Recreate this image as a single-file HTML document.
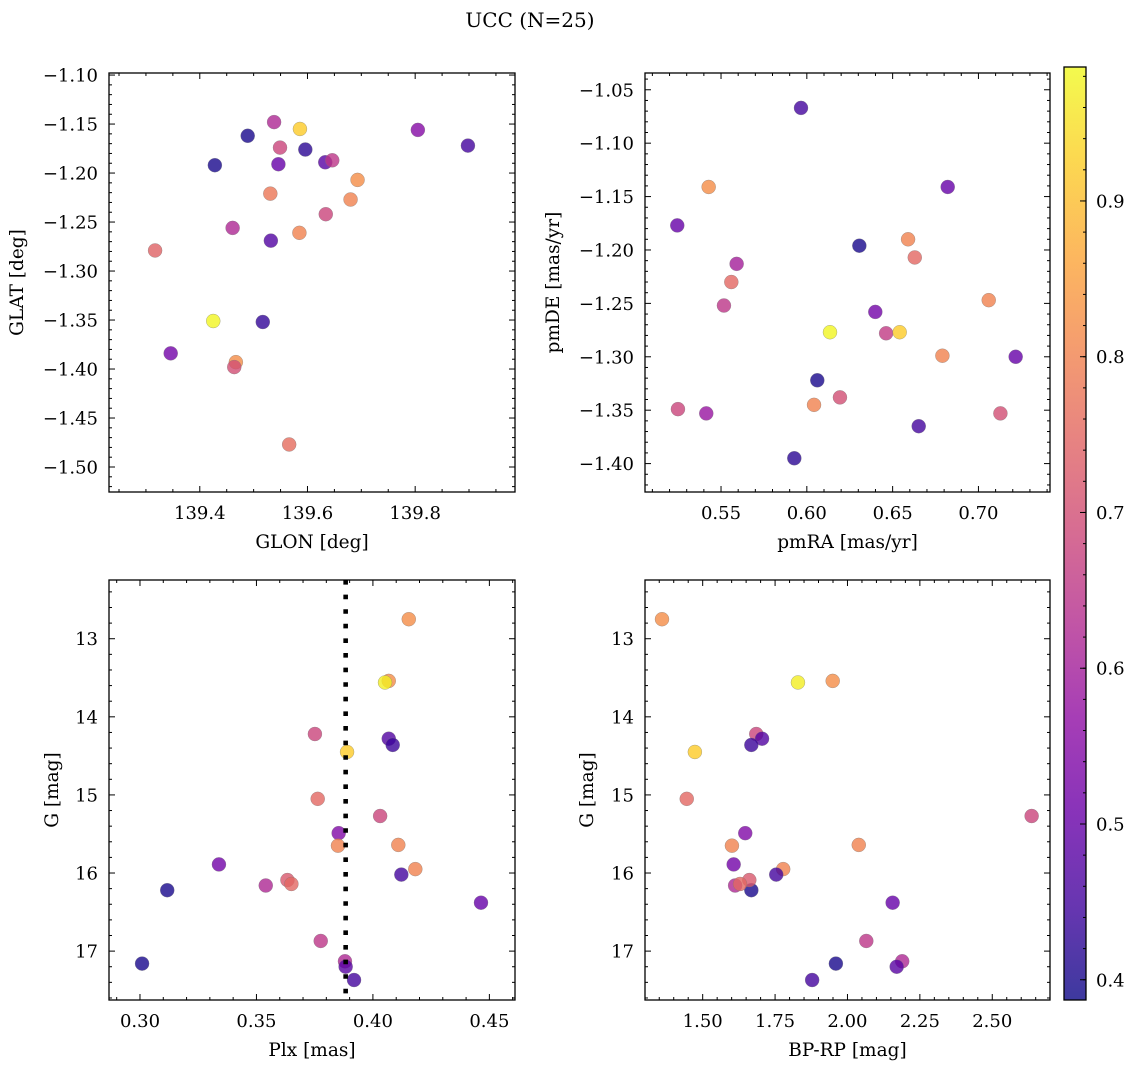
<!DOCTYPE html>
<html><head><meta charset="utf-8">
<style>
html,body{margin:0;padding:0;background:#fff;}
svg{display:block;font-family:"DejaVu Serif","Liberation Serif",serif;}
</style></head>
<body>
<svg id="fig" width="1136" height="1067" viewBox="0 0 1136 1067" xmlns="http://www.w3.org/2000/svg">
<defs>
<linearGradient id="cbgrad" x1="0" y1="1" x2="0" y2="0">
<stop offset="0" stop-color="#0d0887"/><stop offset="0.1" stop-color="#41049d"/><stop offset="0.2" stop-color="#6a00a8"/><stop offset="0.3" stop-color="#8f0da4"/><stop offset="0.4" stop-color="#b12a90"/><stop offset="0.5" stop-color="#cc4778"/><stop offset="0.6" stop-color="#e16462"/><stop offset="0.7" stop-color="#f2844b"/><stop offset="0.8" stop-color="#fca636"/><stop offset="0.9" stop-color="#fcce25"/><stop offset="1" stop-color="#f0f921"/>
</linearGradient>
</defs>
<text x="530" y="27" text-anchor="middle" font-size="20">UCC (N=25)</text>
<g id="layer"></g>
</svg>
<script>
// ---- data ----
const glon = [139.538,139.586,139.489,139.805,139.898,139.549,139.596,139.428,139.546,139.633,139.646,139.693,139.531,139.680,139.634,139.585,139.461,139.532,139.317,139.425,139.517,139.346,139.467,139.464,139.566];
const glat = [-1.148,-1.155,-1.162,-1.156,-1.172,-1.174,-1.176,-1.192,-1.191,-1.189,-1.187,-1.207,-1.221,-1.227,-1.242,-1.261,-1.256,-1.269,-1.279,-1.351,-1.352,-1.384,-1.393,-1.398,-1.477];
const probTop1 = [0.62,0.92,0.40,0.55,0.45,0.68,0.42,0.40,0.50,0.48,0.65,0.82,0.78,0.80,0.68,0.80,0.62,0.47,0.74,0.98,0.43,0.52,0.82,0.70,0.76];
const pmra = [0.5966,0.5428,0.6821,0.5245,0.6306,0.6590,0.6629,0.5591,0.5560,0.5517,0.7060,0.6399,0.6135,0.6462,0.6541,0.6790,0.7217,0.6061,0.6193,0.6042,0.5249,0.5414,0.7128,0.6652,0.5927];
const pmde = [-1.067,-1.141,-1.141,-1.177,-1.196,-1.190,-1.207,-1.213,-1.230,-1.252,-1.247,-1.258,-1.277,-1.278,-1.277,-1.299,-1.300,-1.322,-1.338,-1.345,-1.349,-1.353,-1.353,-1.365,-1.395];
const probTop2 = [0.45,0.82,0.50,0.50,0.40,0.80,0.75,0.60,0.75,0.65,0.80,0.52,0.98,0.66,0.92,0.80,0.50,0.40,0.70,0.80,0.68,0.58,0.70,0.45,0.42];
const plx = [0.4154,0.4068,0.4052,0.3751,0.4068,0.4085,0.3889,0.3763,0.4031,0.3853,0.3850,0.4109,0.3339,0.4182,0.4122,0.3117,0.3540,0.3633,0.3650,0.4464,0.3776,0.3009,0.3880,0.3883,0.3919];
const bprp = [1.3595,1.949,1.829,1.685,1.705,1.668,1.473,1.445,2.636,1.647,1.601,2.039,1.607,1.778,1.754,1.668,1.612,1.661,1.629,2.156,2.065,1.960,2.189,2.170,1.878];
const gmag = [12.75,13.54,13.56,14.22,14.28,14.36,14.45,15.05,15.27,15.49,15.65,15.64,15.89,15.95,16.02,16.22,16.16,16.09,16.14,16.38,16.87,17.16,17.13,17.20,17.37];
const probBot = [0.82,0.82,0.97,0.68,0.47,0.44,0.92,0.75,0.68,0.54,0.80,0.80,0.52,0.80,0.45,0.40,0.62,0.72,0.75,0.50,0.65,0.40,0.62,0.48,0.45];
const plxMedian = [0.3883];
const cbTicks = [0.4,0.5,0.6,0.7,0.8,0.9];
const cbRange = [0.387,0.986];

// ---- helpers ----
const NS='http://www.w3.org/2000/svg';
const layer=document.getElementById('layer');
function mk(tag,attrs,parent){const e=document.createElementNS(NS,tag);for(const k in attrs)e.setAttribute(k,attrs[k]);(parent||layer).appendChild(e);return e;}
const stops=[[13,8,135],[65,4,157],[106,0,168],[143,13,164],[177,42,144],[204,71,120],[225,100,98],[242,132,75],[252,166,54],[252,206,37],[240,249,33]];
function plasma(v){
  let t=(v-cbRange[0])/(cbRange[1]-cbRange[0]);t=Math.max(0,Math.min(1,t));
  const f=t*10,i=Math.min(9,Math.floor(f)),r=f-i,a=stops[i],b=stops[i+1];
  return 'rgb('+a.map((c,k)=>Math.round(c+(b[k]-c)*r)).join(',')+')';
}
function fmt(v,d){const s=Math.abs(v).toFixed(d);return (v<-1e-9?'\u2212':'')+s;}

function panel(cfg){
  const g=mk('g',{});
  
  
  const {x0,x1,y0,y1}=cfg.box;
  const sx=v=>x0+(v-cfg.xr[0])/(cfg.xr[1]-cfg.xr[0])*(x1-x0);
  const sy=v=>y0+(v-cfg.yr[0])/(cfg.yr[1]-cfg.yr[0])*(y1-y0);
  const pts=mk('g',{},g);
  
  
  cfg.xs.forEach((xv,i)=>{
    const c=mk('circle',{cx:sx(xv),cy:sy(cfg.ys[i]),r:7,fill:plasma(cfg.cs[i]),'fill-opacity':0.8,stroke:'#777','stroke-width':0.5,'stroke-opacity':0.6},pts);
    
    
  });
  if(cfg.vline!==undefined){
    const l=mk('line',{x1:sx(cfg.vline),x2:sx(cfg.vline),y1:y0,y2:y1,stroke:'#000','stroke-width':4.6,'stroke-dasharray':'4.6 10'},g);
    
    
  }
  const tk=mk('g',{stroke:'#000','stroke-width':1},g);
  const lo=Math.min(cfg.xr[0],cfg.xr[1]),hi=Math.max(cfg.xr[0],cfg.xr[1]);
  for(let v=Math.ceil(lo/cfg.xmin-1e-6)*cfg.xmin;v<=hi+1e-9;v+=cfg.xmin){
    const isMaj=Math.abs(v/cfg.xmaj-Math.round(v/cfg.xmaj))<1e-4;const L=isMaj?6:3;const X=sx(v);
    mk('line',{x1:X,x2:X,y1:y1,y2:y1-L},tk);mk('line',{x1:X,x2:X,y1:y0,y2:y0+L},tk);
    if(isMaj){const t=mk('text',{x:X,y:y1+27,'text-anchor':'middle','font-size':18,stroke:'none'},g);t.textContent=fmt(v,cfg.xd);
      
      }
  }
  const ylo=Math.min(cfg.yr[0],cfg.yr[1]),yhi=Math.max(cfg.yr[0],cfg.yr[1]);
  for(let v=Math.ceil(ylo/cfg.ymin-1e-6)*cfg.ymin;v<=yhi+1e-9;v+=cfg.ymin){
    const isMaj=Math.abs(v/cfg.ymaj-Math.round(v/cfg.ymaj))<1e-4;const L=isMaj?6:3;const Y=sy(v);
    mk('line',{x1:x0,x2:x0+L,y1:Y,y2:Y},tk);mk('line',{x1:x1,x2:x1-L,y1:Y,y2:Y},tk);
    if(isMaj){const t=mk('text',{x:x0-11,y:Y+6.5,'text-anchor':'end','font-size':18},g);t.textContent=fmt(v,cfg.yd);
      
      }
  }
  const fr=mk('rect',{x:x0,y:y0,width:x1-x0,height:y1-y0,fill:'none',stroke:'#000','stroke-width':1.3},g);
  
  
  const xl=mk('text',{x:(x0+x1)/2,y:y1+56,'text-anchor':'middle','font-size':18.5},g);xl.textContent=cfg.xlabel;
  
  
  const yx=cfg.ylabelX,yy=(y0+y1)/2;
  const yl=mk('text',{x:yx,y:yy,'text-anchor':'middle','font-size':18.5,transform:'rotate(-90 '+yx+' '+yy+')'},g);yl.textContent=cfg.ylabel;
  
  
}

panel({name:'glon-glat-panel',box:{x0:109,x1:515,y0:73,y1:492},xr:[139.2314,139.9854],yr:[-1.0979,-1.5255],xs:glon,ys:glat,cs:probTop1,xmaj:0.2,xmin:0.05,ymaj:0.05,ymin:0.01,xd:1,yd:2,xlabel:'GLON [deg]',ylabel:'GLAT [deg]',ylabelX:23});
panel({name:'pm-panel',box:{x0:645,x1:1050,y0:73,y1:492},xr:[0.5057,0.7417],yr:[-1.0343,-1.4266],xs:pmra,ys:pmde,cs:probTop2,xmaj:0.05,xmin:0.01,ymaj:0.05,ymin:0.01,xd:2,yd:2,xlabel:'pmRA [mas/yr]',ylabel:'pmDE [mas/yr]',ylabelX:559});
panel({name:'plx-g-panel',box:{x0:109,x1:515,y0:580,y1:1000},xr:[0.2867,0.4610],yr:[12.248,17.626],xs:plx,ys:gmag,cs:probBot,xmaj:0.05,xmin:0.01,ymaj:1,ymin:0.2,xd:2,yd:0,xlabel:'Plx [mas]',ylabel:'G [mag]',ylabelX:58,vline:plxMedian[0]});
panel({name:'cmd-panel',box:{x0:645,x1:1050,y0:580,y1:1000},xr:[1.3008,2.6994],yr:[12.248,17.626],xs:bprp,ys:gmag,cs:probBot,xmaj:0.25,xmin:0.05,ymaj:1,ymin:0.2,xd:2,yd:0,xlabel:'BP-RP [mag]',ylabel:'G [mag]',ylabelX:593});

// colorbar
(function(){
  const cb=mk('g',{});
  
  
  const x0=1064,x1=1086,y0=67,y1=1000;
  mk('rect',{x:x0,y:y0,width:x1-x0,height:y1-y0,fill:'url(#cbgrad)','fill-opacity':0.8},cb);
  const sy=v=>y1-(v-cbRange[0])/(cbRange[1]-cbRange[0])*(y1-y0);
  for(let v=0.40;v<=cbRange[1]+1e-9;v+=0.02){mk('line',{x1:x1,x2:x1-3,y1:sy(v),y2:sy(v),stroke:'#000','stroke-width':1},cb);}
  cbTicks.forEach(v=>{
    mk('line',{x1:x1,x2:x1-6,y1:sy(v),y2:sy(v),stroke:'#000','stroke-width':1},cb);
    const t=mk('text',{x:x1+10,y:sy(v)+6.5,'font-size':18},cb);t.textContent=v.toFixed(1);
    
    
  });
  mk('rect',{x:x0,y:y0,width:x1-x0,height:y1-y0,fill:'none',stroke:'#000','stroke-width':1.3},cb);
})();
</script>
</body></html>
